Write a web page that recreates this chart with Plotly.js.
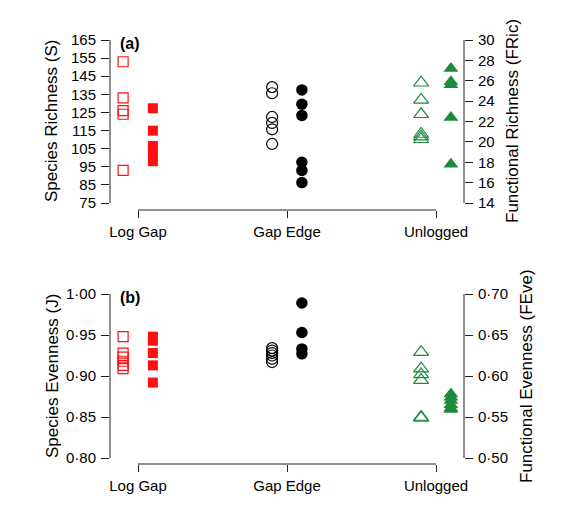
<!DOCTYPE html>
<html>
<head>
<meta charset="utf-8">
<script src="https://cdn.plot.ly/plotly-3.0.1.min.js"></script>
<style>
  html, body { margin: 0; padding: 0; background: #fff; }
  #chart { width: 582px; height: 516px; }
</style>
</head>
<body>
<div id="chart"></div>
<script>
// Treatments along the x axis
const groups = ["Log Gap", "Gap Edge", "Unlogged"];

// Panel (a): species richness (open symbols, left axis)
const S_logGap   = [153, 133, 126, 124, 93];
const S_gapEdge  = [139, 135.6, 122.5, 119.2, 115.7, 107.6];
const S_unlogged = [141.4, 131.9, 124.0, 113.1, 111.6, 110.2];

// Panel (a): functional richness (filled symbols, right axis)
const FRic_logGap   = [23.3, 21.1, 19.6, 18.9, 18.1];
const FRic_gapEdge  = [25.1, 23.7, 22.6, 18.0, 17.2, 16.0];
const FRic_unlogged = [27.2, 25.9, 25.6, 22.4, 17.8];

// Panel (b): species evenness (open symbols, left axis)
const J_logGap   = [0.948, 0.928, 0.923, 0.918, 0.913, 0.909];
const J_gapEdge  = [0.934, 0.931, 0.928, 0.925, 0.921, 0.917];
const J_unlogged = [0.929, 0.909, 0.902, 0.895, 0.850, 0.849];

// Panel (b): functional evenness (filled symbols, right axis)
const FEve_logGap   = [0.648, 0.643, 0.628, 0.613, 0.592];
const FEve_gapEdge  = [0.689, 0.653, 0.633, 0.627];
const FEve_unlogged = [0.578, 0.574, 0.570, 0.565, 0.561, 0.559];

// Axis tick values
const S_ticks    = [75, 85, 95, 105, 115, 125, 135, 145, 155, 165];
const FRic_ticks = [14, 16, 18, 20, 22, 24, 26, 28, 30];
const J_ticks    = [0.80, 0.85, 0.90, 0.95, 1.00];
const FEve_ticks = [0.50, 0.55, 0.60, 0.65, 0.70];

// ---- layout geometry (pixels in a 582 x 516 page) ----
const W = 582, H = 516;
const RED = "#ff1010", GREEN = "#1c8a3a", BLACK = "#000000";
const AX = "#222222";
const FONT = "Liberation Sans, Arial, sans-serif";

// value range that puts v0 at pixel p0 and v1 at pixel p1, spanning pixels pBottom..pTop
function span(v0, p0, v1, p1, pBottom, pTop) {
  const k = (v1 - v0) / (p1 - p0);
  return [v0 + (pBottom - p0) * k, v0 + (pTop - p0) * k];
}
const xLeft = 110, xRight = 464;
const xRange = span(1, 138, 3, 436, xLeft, xRight);
const xDom = [xLeft / W, xRight / W];

const aTop = 35, aBot = 210;
const bTop = 289, bBot = 464;
const domA = [(H - aBot) / H, (H - aTop) / H];
const domB = [(H - bBot) / H, (H - bTop) / H];

const rangeS    = span(75, 203, 165, 40, aBot, aTop);
const rangeFRic = span(14, 203, 30, 40, aBot, aTop);
const rangeJ    = span(0.80, 458, 1.00, 294, bBot, bTop);
const rangeFEve = span(0.50, 458, 0.70, 294, bBot, bTop);

const fmt = v => v.toFixed(2).replace(".", "\u00b7");

function pts(vals, groupIdx, side, xa, ya, symbol, color, size, open) {
  const x = vals.map(() => groupIdx + (side < 0 ? -0.1 : 0.1));
  return {
    type: "scatter", mode: "markers", x: x, y: vals, xaxis: xa, yaxis: ya,
    hoverinfo: "skip", showlegend: false, cliponaxis: false,
    marker: {
      symbol: open ? symbol + "-open" : symbol,
      size: size,
      color: color,
      line: { color: color, width: open ? 1.2 : 0 }
    }
  };
}

const traces = [
  pts(S_logGap, 1, -1, "x", "y", "square", RED, 10, true),
  pts(FRic_logGap, 1, 1, "x", "y2", "square", RED, 10, false),
  pts(S_gapEdge, 2, -1, "x", "y", "circle", BLACK, 11, true),
  pts(FRic_gapEdge, 2, 1, "x", "y2", "circle", BLACK, 11.5, false),
  pts(S_unlogged, 3, -1, "x", "y", "triangle-up", GREEN, 13, true),
  pts(FRic_unlogged, 3, 1, "x", "y2", "triangle-up", GREEN, 13, false),

  pts(J_logGap, 1, -1, "x2", "y3", "square", RED, 10, true),
  pts(FEve_logGap, 1, 1, "x2", "y4", "square", RED, 10, false),
  pts(J_gapEdge, 2, -1, "x2", "y3", "circle", BLACK, 11, true),
  pts(FEve_gapEdge, 2, 1, "x2", "y4", "circle", BLACK, 11.5, false),
  pts(J_unlogged, 3, -1, "x2", "y3", "triangle-up", GREEN, 13, true),
  pts(FEve_unlogged, 3, 1, "x2", "y4", "triangle-up", GREEN, 13, false)
];

const tickFont = { family: FONT, size: 15, color: "#000" };

function xAxis(yAnchor) {
  return {
    domain: xDom, range: xRange, anchor: yAnchor,
    tickmode: "array", tickvals: [1, 2, 3], ticktext: groups,
    ticks: "outside", ticklen: 7, tickwidth: 1, tickcolor: AX,
    showline: false, showgrid: false, zeroline: false,
    tickfont: tickFont, ticklabelstandoff: 1, fixedrange: true
  };
}
function yAxis(dom, range, vals, text, side, xAnchor, over) {
  const a = {
    domain: dom, range: range, anchor: xAnchor, side: side,
    tickmode: "array", tickvals: vals, ticktext: text,
    ticks: "outside", ticklen: 8, tickwidth: 1, tickcolor: AX,
    showline: false, showgrid: false, zeroline: false,
    tickfont: tickFont, ticklabelstandoff: 2, fixedrange: true
  };
  if (over) a.overlaying = over;
  return a;
}

// axis lines span first to last tick only
function line(xref, yref, x0, x1, y0, y1) {
  return { type: "line", xref: xref, yref: yref, x0: x0, x1: x1, y0: y0, y1: y1,
           line: { color: AX, width: 1 }, layer: "above" };
}
const shapes = [
  line("x", "y domain", 1, 3, 0, 0),
  line("x domain", "y", 0, 0, S_ticks[0], S_ticks[S_ticks.length - 1]),
  line("x domain", "y2", 1, 1, FRic_ticks[0], FRic_ticks[FRic_ticks.length - 1]),
  line("x2", "y3 domain", 1, 3, 0, 0),
  line("x2 domain", "y3", 0, 0, J_ticks[0], J_ticks[J_ticks.length - 1]),
  line("x2 domain", "y4", 1, 1, FEve_ticks[0], FEve_ticks[FEve_ticks.length - 1])
];

const titleFont = { family: FONT, size: 17, color: "#000" };
function vTitle(text, xPix, yPix) {
  return { text: text, xref: "paper", yref: "paper", x: xPix / W, y: 1 - yPix / H,
           xanchor: "center", yanchor: "middle", textangle: -90, showarrow: false, font: titleFont };
}
function label(text, xPix, yPix) {
  return { text: "<b>" + text + "</b>", xref: "paper", yref: "paper", x: xPix / W, y: 1 - yPix / H,
           xanchor: "left", yanchor: "middle", showarrow: false,
           font: { family: FONT, size: 16, color: "#000" } };
}

const layout = {
  width: W, height: H,
  margin: { l: 0, r: 0, t: 0, b: 0 },
  paper_bgcolor: "#fff", plot_bgcolor: "rgba(0,0,0,0)",
  showlegend: false,
  xaxis: xAxis("y"),
  yaxis: yAxis(domA, rangeS, S_ticks, S_ticks.map(String), "left", "x"),
  yaxis2: yAxis(domA, rangeFRic, FRic_ticks, FRic_ticks.map(String), "right", "x", "y"),
  xaxis2: xAxis("y3"),
  yaxis3: yAxis(domB, rangeJ, J_ticks, J_ticks.map(fmt), "left", "x2"),
  yaxis4: yAxis(domB, rangeFEve, FEve_ticks, FEve_ticks.map(fmt), "right", "x2", "y3"),
  shapes: shapes,
  annotations: [
    vTitle("Species Richness (S)", 52, 121),
    vTitle("Functional Richness (FRic)", 513, 121),
    vTitle("Species Evenness (J)", 52, 376),
    vTitle("Functional Evenness (FEve)", 526, 376),
    label("(a)", 118, 43),
    label("(b)", 118, 297)
  ]
};

Plotly.newPlot("chart", traces, layout, { staticPlot: true, displayModeBar: false });
</script>
</body>
</html>
